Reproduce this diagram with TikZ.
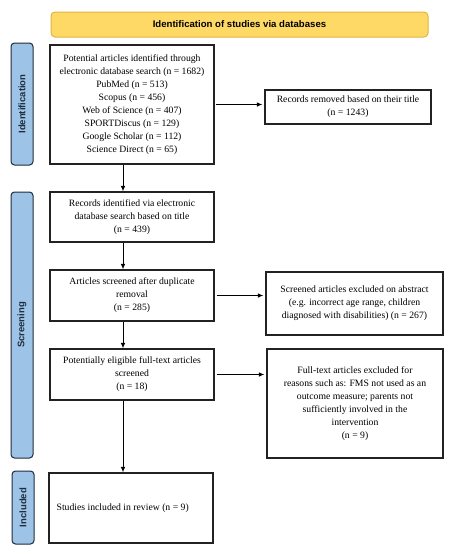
\documentclass[tikz,border=0pt]{standalone}
\usepackage{fontspec}
\setmainfont{Liberation Serif}
\setsansfont{Liberation Sans}
\usetikzlibrary{arrows.meta}
\definecolor{bannerfill}{HTML}{FFD966}
\definecolor{bannerdraw}{HTML}{E2B33C}
\definecolor{sidefill}{HTML}{9DC3E6}
\definecolor{sidedraw}{HTML}{1F2D3D}
\definecolor{boxdraw}{HTML}{222222}
\begin{document}
\begin{tikzpicture}[x=1pt,y=-1pt,
  box/.style={draw=boxdraw, line width=1.1pt, fill=white, inner sep=0pt, align=center,
    font=\rmfamily\fontsize{9.7}{13.1}\selectfont},
  plain/.style={inner sep=0pt, font=\rmfamily\fontsize{9.7}{13.1}\selectfont},
  side/.style={draw=sidedraw, fill=sidefill, line width=1pt, rounded corners=3.5pt,
    inner sep=0pt, rotate=90, minimum height=22pt, text=sidedraw,
    font=\sffamily\bfseries\fontsize{9.5}{11}\selectfont},
  banner/.style={draw=bannerdraw, fill=bannerfill, line width=1pt, rounded corners=4pt,
    inner sep=0pt, font=\sffamily\bfseries\fontsize{9.6}{11}\selectfont},
  arr/.style={-{Latex[length=5.5pt,width=4.5pt]}, line width=0.9pt, draw=black}]
\useasboundingbox (0,0) rectangle (454,550);
\coordinate (ax) at (123,0);

\node[banner, minimum width=377pt, minimum height=25pt] (top) at (239.5,24.5)
  {Identification of studies via databases};

\node[side, minimum width=122pt] (s1) at (22,104) {Identification};
\node[side, minimum width=266pt] (s2) at (22,325) {Screening};
\node[side, minimum width=73pt] (s3) at (23,507.5) {Included};

\node[box, minimum width=164pt, minimum height=119pt] (b1) at (132,104.5)
  {Potential articles identified through\\electronic database search (n = 1682)\\PubMed (n = 513)\\Scopus (n = 456)\\Web of Science (n = 407)\\SPORTDiscus (n = 129)\\Google Scholar (n = 112)\\Science Direct (n = 65)};
\node[box, minimum width=166pt, minimum height=34pt] (r1) at (348,107)
  {Records removed based on their title\\(n = 1243)};

\node[box, minimum width=164pt, minimum height=50pt] (b2) at (132,217)
  {Records identified via electronic\\database search based on title\\(n = 439)};

\node[box, minimum width=164pt, minimum height=51pt] (b3) at (132,295.5)
  {Articles screened after duplicate\\removal\\(n = 285)};
\node[box, minimum width=177pt, minimum height=63pt] (r2) at (354.5,303.5)
  {Screened articles excluded on abstract\\(e.g. incorrect age range, children\\diagnosed with disabilities) (n = 267)};

\node[box, minimum width=164pt, minimum height=51pt] (b4) at (132,374.5)
  {Potentially eligible full-text articles\\screened\\(n = 18)};
\node[box, minimum width=176pt, minimum height=109pt] (r3) at (355,403.5)
  {Full-text articles excluded for\\reasons such as: FMS not used as an\\outcome measure; parents not\\sufficiently involved in the\\intervention\\(n = 9)};

\node[box, minimum width=164pt, minimum height=70pt] (b5) at (131,508) {};
\node[plain, anchor=west] (t5) at ([xshift=8pt]b5.west) {Studies included in review (n = 9)};

\draw[arr] (b1.south -| ax) -- (b2.north -| ax);
\draw[arr] (b2.south -| ax) -- (b3.north -| ax);
\draw[arr] (b3.south -| ax) -- (b4.north -| ax);
\draw[arr] (b4.south -| ax) -- (b5.north -| ax);
\draw[arr, shorten <=1pt, shorten >=2pt] (b1.east) -- (b1.east -| r1.west);
\draw[arr, shorten <=2pt, shorten >=2pt] (b3.east) -- (b3.east -| r2.west);
\draw[arr, shorten <=2pt, shorten >=2pt] (b4.east) -- (b4.east -| r3.west);
\end{tikzpicture}
\end{document}
